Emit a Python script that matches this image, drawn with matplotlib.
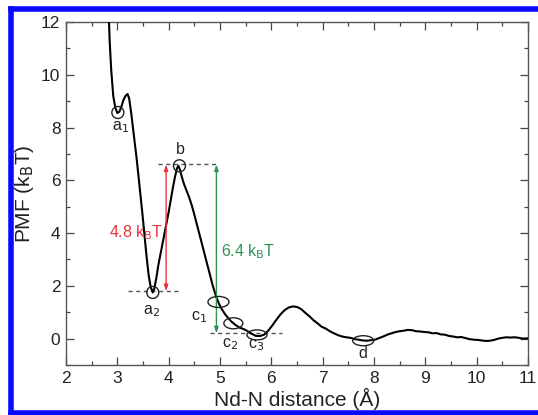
import matplotlib.pyplot as plt
from matplotlib.patches import Ellipse
from matplotlib.lines import Line2D

plt.rcParams['font.family'] = ['Liberation Sans', 'DejaVu Sans']

# PMF profile along the Nd-N distance
dist = [2.83, 2.85, 2.88, 2.92, 2.96, 3.00, 3.04, 3.08, 3.12, 3.16, 3.20, 3.23,
        3.27, 3.31, 3.35, 3.38, 3.41, 3.45, 3.49, 3.53, 3.57, 3.61, 3.65, 3.69,
        3.72, 3.76, 3.80, 3.84, 3.88, 3.92, 3.96, 4.00, 4.04, 4.08, 4.12, 4.16,
        4.19, 4.22, 4.26, 4.30, 4.35, 4.40, 4.45, 4.50, 4.56, 4.62, 4.68, 4.74,
        4.80, 4.86, 4.92, 4.98, 5.04, 5.10, 5.16, 5.22, 5.30, 5.38, 5.46, 5.54,
        5.62, 5.70, 5.78, 5.86, 5.94, 6.02, 6.10, 6.18, 6.26, 6.34, 6.42, 6.50,
        6.58, 6.66, 6.74, 6.82, 6.90, 6.98, 7.06, 7.14, 7.22, 7.30, 7.38, 7.46,
        7.54, 7.62, 7.70, 7.78, 7.86, 7.94, 8.02, 8.10, 8.18, 8.26, 8.34, 8.42,
        8.50, 8.58, 8.66, 8.74, 8.82, 8.90, 8.98, 9.06, 9.14, 9.22, 9.30, 9.38,
        9.46, 9.54, 9.62, 9.70, 9.78, 9.86, 9.94, 10.02, 10.10, 10.18, 10.26,
        10.34, 10.42, 10.50, 10.58, 10.66, 10.74, 10.82, 10.90, 10.98]
pmf = [12.4, 11.3, 10.2, 9.2, 8.75, 8.55, 8.6, 8.8, 9.05, 9.2, 9.27, 9.1,
       8.55, 7.9, 7.25, 6.75, 6.2, 5.45, 4.7, 3.9, 3.1, 2.4, 1.95, 1.75,
       1.9, 2.3, 2.8, 3.2, 3.6, 4.0, 4.4, 4.8, 5.25, 5.7, 6.1, 6.45,
       6.55, 6.4, 6.1, 5.85, 5.6, 5.35, 5.05, 4.7, 4.25, 3.8, 3.35, 2.9,
       2.45, 2.0, 1.62, 1.32, 1.1, 0.92, 0.78, 0.65, 0.52, 0.42, 0.36, 0.28,
       0.18, 0.1, 0.1, 0.15, 0.3, 0.5, 0.72, 0.92, 1.08, 1.18, 1.22, 1.2,
       1.12, 0.98, 0.85, 0.7, 0.58, 0.45, 0.38, 0.28, 0.2, 0.13, 0.08, 0.05,
       0.03, -0.02, -0.04, -0.07, -0.08, -0.06, -0.04, 0.02, 0.08, 0.15, 0.2, 0.25,
       0.28, 0.3, 0.33, 0.32, 0.28, 0.27, 0.25, 0.24, 0.2, 0.21, 0.16, 0.15,
       0.1, 0.08, 0.05, 0.06, 0.02, -0.02, -0.04, -0.05, -0.07, -0.09, -0.08,
       -0.05, 0.0, 0.03, 0.05, 0.04, 0.05, 0.03, 0.0, 0.01]

# marked states on the profile
states = ['a1', 'a2', 'b', 'c1', 'c2', 'c3', 'd']
state_x = [3.01, 3.69, 4.21, 4.97, 5.26, 5.72, 7.79]
state_y = [8.57, 1.75, 6.55, 1.39, 0.58, 0.14, -0.08]
state_text = [r'a$_1$', r'a$_2$', 'b', r'c$_1$', r'c$_2$', r'c$_3$', 'd']

# barrier heights (kBT) measured from the top of b
b_level = 6.6
barriers = [4.8, 6.4]

fig = plt.figure(figsize=(5.38, 4.15), dpi=100)
ax = fig.add_axes([0.1227, 0.1205, 0.8587, 0.8265])

ax.plot(dist, pmf, color='black', lw=1.5, zorder=3)

px_x = 51.33  # pixels per unit x
px_y = 26.3   # pixels per unit y
sizes = {'a1': (12, 12), 'a2': (12, 12), 'b': (12, 12), 'c1': (21, 11),
         'c2': (19, 11), 'c3': (20, 10), 'd': (21, 10)}
for name, x, y in zip(states, state_x, state_y):
    w, h = sizes[name]
    ax.add_patch(Ellipse((x, y), w / px_x, h / px_y, fill=False,
                         edgecolor='#222222', lw=1.0, zorder=4))

label_pos = {'a1': (3.06, 8.0), 'a2': (3.67, 1.05), 'b': (4.22, 7.15),
             'c1': (4.6, 0.82), 'c2': (5.2, -0.2), 'c3': (5.71, -0.25),
             'd': (7.78, -0.55)}
for name, txt in zip(states, state_text):
    lx, ly = label_pos[name]
    ax.text(lx, ly, txt, fontsize=11.5, ha='center', va='center', color='#222222')

# reference levels
a2_level = b_level - barriers[0]
c3_level = b_level - barriers[1]
dash = dict(color='#555555', lw=1.0, ls=(0, (3, 2.5)), zorder=2)
ax.plot([3.2, 4.18], [a2_level, a2_level], **dash)
ax.plot([3.8, 4.97], [b_level, b_level], **dash)
ax.plot([4.8, 6.2], [c3_level, c3_level], **dash)

red = '#e8343c'
green = '#2f9155'
ax.annotate('', xy=(3.95, b_level), xytext=(3.95, a2_level),
            arrowprops=dict(arrowstyle='<|-|>,head_length=0.35,head_width=0.12',
                            color=red, lw=1.0, shrinkA=0, shrinkB=0))
ax.annotate('', xy=(4.93, b_level), xytext=(4.93, c3_level),
            arrowprops=dict(arrowstyle='<|-|>,head_length=0.35,head_width=0.12',
                            color=green, lw=1.0, shrinkA=0, shrinkB=0))
ax.text(3.9, 4.0, rf'{barriers[0]} k$_\mathrm{{B}}$T', color=red, fontsize=11.5,
        ha='right', va='center')
ax.text(5.02, 3.3, rf'{barriers[1]} k$_\mathrm{{B}}$T', color=green, fontsize=11.5,
        ha='left', va='center')

ax.set_xlim(2, 11)
ax.set_ylim(-1, 12)
ax.set_xticks(range(2, 12))
ax.set_yticks(range(0, 13, 2))
ax.set_xticks([x + 0.5 for x in range(2, 11)], minor=True)
ax.set_yticks(range(-1, 13, 2), minor=True)
ax.tick_params(which='both', direction='in', top=True, right=True,
               labeltop=False, labelright=False, color='#444444',
               labelsize=12.5, labelcolor='#222222', width=0.9, pad=4)
ax.tick_params(which='major', length=5.5)
ax.tick_params(which='minor', length=3)
for sp in ax.spines.values():
    sp.set_color('#555555')
    sp.set_linewidth(1.0)

ax.set_xlabel('Nd-N distance (Å)', fontsize=15, color='#222222', labelpad=2)
ax.set_ylabel(r'PMF (k$_\mathrm{B}$T)', fontsize=15, color='#222222', labelpad=4)

# blue frame on the top, left and bottom edges
W, H = 538.0, 415.0
frame = dict(color='#0a0aff', lw=4.0, transform=fig.transFigure)
fig.lines.append(Line2D([11 / W, 1.0], [1 - 9.5 / H, 1 - 9.5 / H], **frame))
fig.lines.append(Line2D([11 / W, 11 / W], [1 - 9.5 / H, 2.5 / H], **frame))
fig.lines.append(Line2D([11 / W, 1.0], [2.5 / H, 2.5 / H], **frame))

fig.savefig('out.png', dpi=100)
